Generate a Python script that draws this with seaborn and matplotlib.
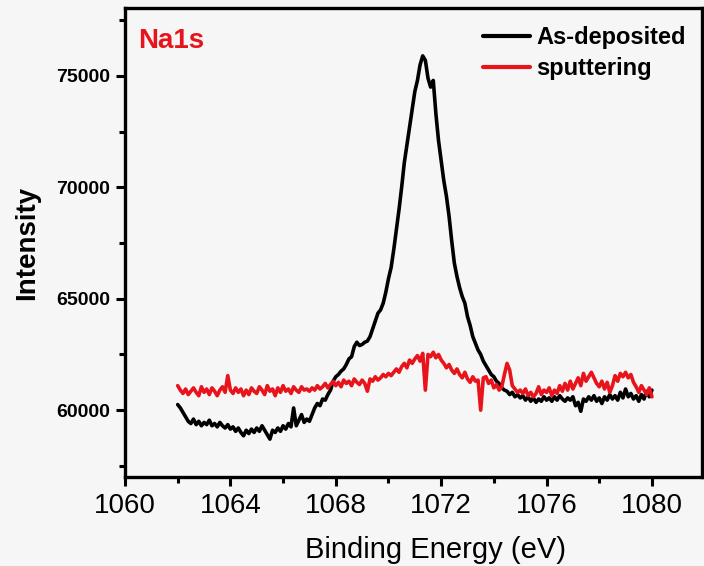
import numpy as np
import pandas as pd
import matplotlib
matplotlib.use("Agg")
import matplotlib.pyplot as plt
import seaborn as sns
from matplotlib.ticker import MultipleLocator

# ---------------- data ----------------
energy = np.round(np.arange(1062.0, 1080.05, 0.1), 1)

as_deposited = [
    60250, 60100, 59900, 59700, 59500, 59400, 59600, 59350, 59500, 59300,   # 1062
    59450, 59350, 59550, 59300, 59400, 59250, 59450, 59300, 59200, 59350,   # 1063
    59150, 59250, 59050, 59200, 59000, 58850, 59100, 58950, 59150, 59000,   # 1064
    59200, 59050, 59300, 59100, 58900, 58700, 59100, 59000, 59200, 59050,   # 1065
    59300, 59150, 59400, 59250, 60100, 59300, 59550, 59800, 59450, 59600,   # 1066
    59500, 59800, 60100, 60300, 60200, 60500, 60450, 60700, 60900, 61300,   # 1067
    61500, 61600, 61750, 61850, 62050, 62300, 62400, 62850, 63050, 62900,   # 1068
    62950, 63050, 63100, 63300, 63650, 64000, 64350, 64500, 64800, 65300,   # 1069
    65900, 66400, 67200, 68100, 69000, 70000, 71100, 71900, 72700, 73500,   # 1070
    74300, 74800, 75500, 75900, 75700, 74900, 74500, 74800, 73300, 72100,   # 1071
    71200, 70300, 69600, 68700, 67600, 66600, 66000, 65500, 65100, 64800,   # 1072
    64200, 63800, 63300, 63000, 62700, 62500, 62200, 62000, 61800, 61600,   # 1073
    61500, 61300, 61200, 61000, 60900, 60850, 60700, 60800, 60600, 60700,   # 1074
    60550, 60650, 60450, 60600, 60400, 60550, 60350, 60500, 60400, 60600,   # 1075
    60450, 60550, 60400, 60600, 60450, 60650, 60500, 60400, 60550, 60450,   # 1076
    60600, 60200, 60350, 59950, 60500, 60400, 60600, 60450, 60650, 60400,   # 1077
    60550, 60300, 60600, 60450, 60700, 60500, 60650, 60450, 60800, 60550,   # 1078
    60950, 60600, 60750, 60500, 60650, 60400, 60700, 60500, 60850, 60600,   # 1079
    60900,                                                                  # 1080
]

sputtering = [
    61100, 60900, 60750, 60950, 60700, 60850, 61000, 60800, 60650, 61050,   # 1062
    60800, 60950, 60700, 61000, 60850, 60650, 60900, 61050, 60800, 61550,   # 1063
    60900, 60750, 61000, 60800, 60950, 60650, 60900, 60700, 61000, 60850,   # 1064
    60750, 61050, 60900, 60700, 61100, 60850, 60950, 60650, 61000, 60800,   # 1065
    61100, 60850, 60950, 60750, 61050, 60900, 60800, 61050, 60900, 60950,   # 1066
    60850, 61000, 60900, 61100, 60950, 61050, 61200, 61000, 61150, 61300,   # 1067
    61100, 61250, 61050, 61350, 61200, 61300, 61100, 61400, 61250, 61150,   # 1068
    61350, 61200, 60850, 61400, 61300, 61500, 61350, 61450, 61600, 61500,   # 1069
    61650, 61550, 61700, 61850, 61700, 61950, 62100, 61900, 62250, 62100,   # 1070
    62300, 62450, 62200, 62550, 60900, 62500, 62400, 62600, 62350, 62500,   # 1071
    62250, 62100, 61900, 62050, 61800, 61650, 61850, 61600, 61450, 61700,   # 1072
    61400, 61250, 61500, 61300, 61350, 60000, 61450, 61500, 61200, 61350,   # 1073
    61000, 61150, 60900, 61050, 61600, 62100, 61800, 61100, 60950, 60800,   # 1074
    60900, 60750, 60950, 60650, 60800, 60600, 60750, 61050, 60700, 60900,   # 1075
    60800, 61000, 60650, 60900, 60750, 61100, 60850, 61200, 60900, 61300,   # 1076
    60950, 61200, 61450, 61100, 61650, 61300, 61500, 61700, 61450, 61200,   # 1077
    61050, 61300, 60950, 61250, 60800, 61100, 61550, 61300, 61650, 61500,   # 1078
    61700, 61450, 61600, 61250, 61050, 60800, 61100, 60900, 60700, 61000,   # 1079
    60600,                                                                  # 1080
]

series_names = ["As-deposited", "sputtering"]
series_colors = ["#000000", "#e8141c"]
x_ticks = [1060, 1064, 1068, 1072, 1076, 1080]
y_ticks = [60000, 65000, 70000, 75000]

df = pd.DataFrame({
    "Binding Energy (eV)": np.concatenate([energy, energy]),
    "Intensity": np.concatenate([as_deposited, sputtering]),
    "Sample": [series_names[0]] * len(energy) + [series_names[1]] * len(energy),
})

# ---------------- style ----------------
sns.set_style("white")
plt.rcParams["font.family"] = ["Liberation Sans", "DejaVu Sans"]
plt.rcParams["text.color"] = "black"
plt.rcParams["axes.labelcolor"] = "black"
plt.rcParams["xtick.color"] = "black"
plt.rcParams["ytick.color"] = "black"

W, H = 704, 566
fig = plt.figure(figsize=(W / 100, H / 100), dpi=100)
bg = "#f6f6f6"
fig.patch.set_facecolor(bg)
ax = fig.add_axes([125 / W, 1 - 477 / H, (702 - 125) / W, (477 - 8) / H])
ax.set_facecolor(bg)

sns.lineplot(data=df, x="Binding Energy (eV)", y="Intensity", hue="Sample",
             palette=dict(zip(series_names, series_colors)),
             estimator=None, sort=False, linewidth=2.6, ax=ax)

ax.set_xlim(1060, 1081.9)
ax.set_ylim(57000, 78050)
ax.set_xticks(x_ticks)
ax.set_yticks(y_ticks)
ax.xaxis.set_minor_locator(MultipleLocator(2))
ax.yaxis.set_minor_locator(MultipleLocator(2500))
ax.set_xticklabels([str(v) for v in x_ticks], fontsize=20, color="black")
ax.set_yticklabels([str(v) for v in y_ticks], fontsize=14, fontweight="bold",
                   color="black")

for s in ax.spines.values():
    s.set_visible(True)
    s.set_linewidth(2.4)
    s.set_color("black")

ax.tick_params(axis="both", which="major", direction="out", length=6.5, width=2.2,
               color="black", left=True, bottom=True)
ax.tick_params(axis="both", which="minor", direction="out", length=4, width=2.2,
               color="black", left=True, bottom=True)
ax.tick_params(axis="x", which="major", pad=5)
ax.tick_params(axis="y", which="major", pad=4)

ax.set_xlabel("Binding Energy (eV)", fontsize=21, labelpad=14, color="black")
ax.xaxis.set_label_coords(0.538, -0.125)
ax.set_ylabel("Intensity", fontsize=20, fontweight="bold", labelpad=12,
              color="black")

ax.text(0.022, 0.958, "Na1s", transform=ax.transAxes, color="#e8141c",
        fontsize=20, fontweight="bold", ha="left", va="top")

leg = ax.legend(loc="upper right", bbox_to_anchor=(0.972, 0.962), frameon=False,
                fontsize=17, handlelength=2.0, handletextpad=0.25, labelspacing=0.35,
                borderpad=0, borderaxespad=0)
for t in leg.get_texts():
    t.set_fontweight("bold")
    t.set_color("black")
for h in leg.get_lines():
    h.set_linewidth(3)

fig.savefig("out.png", dpi=100, facecolor=bg)
